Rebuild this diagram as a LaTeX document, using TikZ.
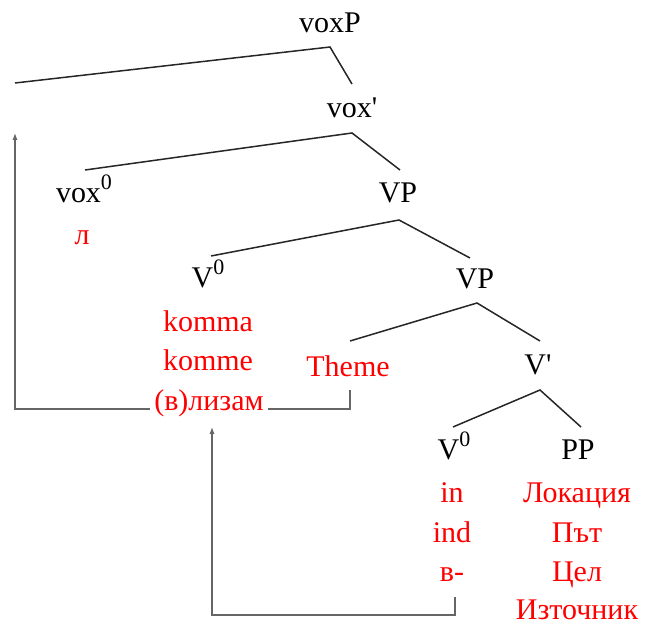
\documentclass[tikz,border=0pt]{standalone}
\usepackage{fontspec}
\setmainfont{Liberation Serif}[Ligatures=TeXOff]
\usetikzlibrary{arrows.meta}
\newcommand{\zsup}{\raisebox{0.45em}{\fontsize{11}{12}\selectfont 0}}
\begin{document}
\begin{tikzpicture}[x=0.5pt,y=-0.5pt,
  every node/.style={font=\fontsize{15}{17}\selectfont, inner sep=0pt, anchor=base},
  rd/.style={text=red},
  branch/.style={draw=black!85, line width=0.75pt},
  move/.style={draw=black!60, line width=0.6pt},
  tip/.style={-{Latex[length=3.5pt,width=2.6pt]}}]
\useasboundingbox (0,0) rectangle (645,626);
% labels
\node (voxP) at (330,33) {voxP};
\node (voxbar) at (352,118) {vox'};
\node (vox0) at (84,203) {vox\zsup};
\node[rd] (l) at (82,245) {л};
\node (VP1) at (398,203) {VP};
\node (V0a) at (208,288) {V\zsup};
\node (VP2) at (475,289) {VP};
\node[rd] (komma) at (208,332) {komma};
\node[rd] (komme) at (208,371) {komme};
\node[rd] (vlizam) at (209,411) {(в)лизам};
\node[rd] (theme) at (348,377) {Theme};
\node (Vbar) at (538,375) {V'};
\node (V0b) at (454,460) {V\zsup};
\node (PP) at (578,460) {PP};
\node[rd] (in) at (452,503) {in};
\node[rd] (ind) at (452,543) {ind};
\node[rd] (v) at (452,582) {в-};
\node[rd] (lok) at (577,503) {Локация};
\node[rd] (pat) at (577,543) {Път};
\node[rd] (cel) at (577,582) {Цел};
\node[rd] (izt) at (577,620) {Източник};
% branch points
\coordinate (p1) at (330,47);  \coordinate (a1) at (15,83);   \coordinate (b1) at (352,84);
\coordinate (p2) at (352,133); \coordinate (a2) at (85,170);  \coordinate (b2) at (400,170);
\coordinate (p3) at (399,220); \coordinate (a3) at (211,256); \coordinate (b3) at (470,258);
\coordinate (p4) at (477,303); \coordinate (a4) at (350,341); \coordinate (b4) at (540,341);
\coordinate (p5) at (540,390); \coordinate (a5) at (453,427); \coordinate (b5) at (581,427);
\draw[branch] (a1) -- (p1) -- (b1);
\draw[branch] (a2) -- (p2) -- (b2);
\draw[branch] (a3) -- (p3) -- (b3);
\draw[branch] (a4) -- (p4) -- (b4);
\draw[branch] (a5) -- (p5) -- (b5);
% movement lines
\coordinate (m1a) at (150,409); \coordinate (m1b) at (15,409); \coordinate (m1t) at (15,133);
\coordinate (m2a) at (268,409); \coordinate (m2b) at (350,409); \coordinate (m2c) at (350,390);
\coordinate (m3a) at (455,597); \coordinate (m3b) at (455,615); \coordinate (m3c) at (212,615); \coordinate (m3t) at (212,427);
\draw[move,tip] (m1a) -- (m1b) -- (m1t);
\draw[move] (m2a) -- (m2b) -- (m2c);
\draw[move,tip] (m3a) -- (m3b) -- (m3c) -- (m3t);
\end{tikzpicture}
\end{document}
